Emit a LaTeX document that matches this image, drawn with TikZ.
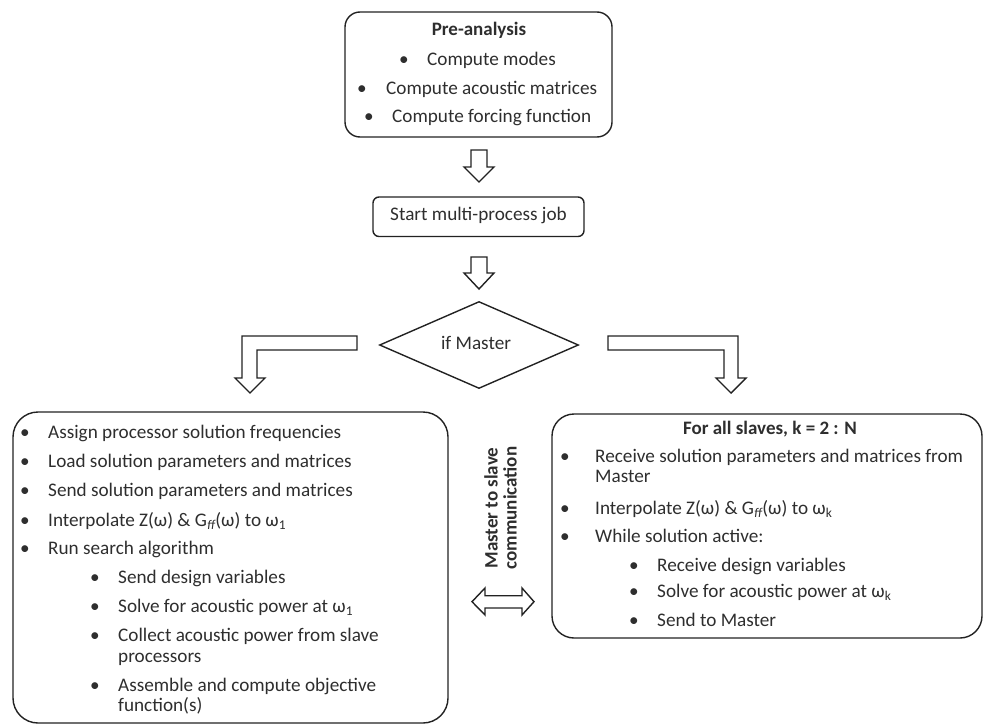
\documentclass[tikz,border=0pt]{standalone}
\usepackage{fontspec}
\setmainfont{Carlito}
\usetikzlibrary{shapes.geometric}
\definecolor{ink}{HTML}{222222}
\definecolor{txt}{HTML}{2E2E2E}
\newcommand{\sbs}[1]{\textsubscript{#1}}
\begin{document}
\begin{tikzpicture}[x=1pt,y=-1pt,
  box/.style={draw=ink, line width=1.4pt, rounded corners=#1, inner sep=0pt},
  blockarrow/.style={draw=ink, line width=1.4pt, fill=white, line join=miter},
  lbl/.style={anchor=west, inner sep=0pt, text height=2ex, text depth=.25ex, text=txt, font=\fontsize{19.2}{22}\selectfont},
  lblc/.style={lbl, anchor=center},
  bold/.style={font=\fontsize{19}{22}\selectfont\bfseries}
]
\useasboundingbox (0,0) rectangle (987,725);

% ---------- boxes ----------
\node[box=15pt, minimum width=267pt, minimum height=125pt] (pre) at (478.5,74.5) {};
\node[box=6pt, minimum width=211pt, minimum height=39.5pt] (start) at (478.5,216.75) {};
\node[draw=ink, line width=1.4pt, diamond, inner sep=0pt, minimum width=199pt, minimum height=87pt] (master) at (479,345) {};
\node[box=25pt, minimum width=435pt, minimum height=311pt] (mbox) at (230.5,567.5) {};
\node[box=22pt, minimum width=430pt, minimum height=224pt] (sbox) at (767,526) {};

% ---------- pre-analysis text ----------
\node[lblc, bold] (pt) at (479,31.7) {Pre-analysis};
\node[lblc] (pb1) at (404,61) {•};
\node[lbl] (p1) at (427,61) {Compute modes};
\node[lblc] (pb2) at (362,90) {•};
\node[lbl] (p2) at (386,90) {Compute acoustic matrices};
\node[lblc] (pb3) at (369,118.3) {•};
\node[lbl] (p3) at (392,118.3) {Compute forcing function};

\node[lblc] (st) at (478.5,216.7) {Start multi-process job};
\node[lblc] (mt) at (476,345) {if Master};

% ---------- block arrows ----------
\draw[blockarrow] (471,150) -- (487,150) -- (487,167) -- (494,167) -- (479,182) -- (464,167) -- (471,167) -- cycle;
\draw[blockarrow] (471,257) -- (487,257) -- (487,273) -- (494,273) -- (479,289) -- (464,273) -- (471,273) -- cycle;
\draw[blockarrow] (357,336) -- (242,336) -- (242,378) -- (235,378) -- (250,393) -- (265,378) -- (257,378) -- (257,350) -- (357,350) -- cycle;
\draw[blockarrow] (608,336) -- (738,336) -- (738,378) -- (746,378) -- (731,393) -- (716,378) -- (724,378) -- (724,350) -- (608,350) -- cycle;
\draw[blockarrow] (472,601.7) -- (485,588) -- (485,595.7) -- (522,595.7) -- (522,588) -- (534,601.7) -- (522,615) -- (522,608) -- (485,608) -- (485,615) -- cycle;

% ---------- communication label ----------
\node[rotate=90, align=center, inner sep=0pt, text=txt, font=\fontsize{19}{19}\selectfont\bfseries] (comm) at (500.5,508) {Master to slave\\communication};

% ---------- master box text ----------
\node[lblc] (mb1) at (25,434) {•};
\node[lbl] (m1) at (48,434) {Assign processor solution frequencies};
\node[lblc] (mb2) at (25,463) {•};
\node[lbl] (m2) at (48,463) {Load solution parameters and matrices};
\node[lblc] (mb3) at (25,492) {•};
\node[lbl] (m3) at (48,492) {Send solution parameters and matrices};
\node[lblc] (mb4) at (25,522) {•};
\node[lbl] (m4) at (48,522) {Interpolate Z(ω) \& G\sbs{\itshape ff}(ω) to ω\sbs{1}};
\node[lblc] (mb5) at (25,550) {•};
\node[lbl] (m5) at (48,550) {Run search algorithm};
\node[lblc] (mb6) at (95,579) {•};
\node[lbl] (m6) at (118,579) {Send design variables};
\node[lblc] (mb7) at (95,608) {•};
\node[lbl] (m7) at (118,608) {Solve for acoustic power at ω\sbs{1}};
\node[lblc] (mb8) at (95,637) {•};
\node[lbl] (m8) at (118,637) {Collect acoustic power from slave};
\node[lbl] (m8b) at (118,658) {processors};
\node[lblc] (mb9) at (95,687) {•};
\node[lbl] (m9) at (118,687) {Assemble and compute objective};
\node[lbl] (m9b) at (118,707) {function(s)};

% ---------- slave box text ----------
\node[lblc, bold] (sti) at (770,430) {For all slaves, k = 2 : N};
\node[lblc] (sb1) at (565,458) {•};
\node[lbl] (s1) at (595,458) {Receive solution parameters and matrices from};
\node[lbl] (s1b) at (595,478) {Master};
\node[lblc] (sb2) at (565,510) {•};
\node[lbl] (s2) at (595,510) {Interpolate Z(ω) \& G\sbs{\itshape ff}(ω) to ω\sbs{k}};
\node[lblc] (sb3) at (565,538) {•};
\node[lbl] (s3) at (595,538) {While solution active:};
\node[lblc] (sb4) at (634,567) {•};
\node[lbl] (s4) at (657,567) {Receive design variables};
\node[lblc] (sb5) at (634,593) {•};
\node[lbl] (s5) at (657,593) {Solve for acoustic power at ω\sbs{k}};
\node[lblc] (sb6) at (634,622) {•};
\node[lbl] (s6) at (657,622) {Send to Master};
\end{tikzpicture}
\end{document}
